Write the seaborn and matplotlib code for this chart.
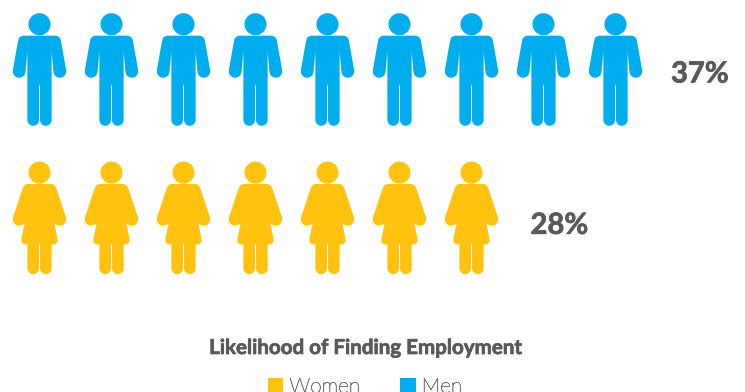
import numpy as np
import pandas as pd
import matplotlib
matplotlib.use("Agg")
import matplotlib.pyplot as plt
import matplotlib.patheffects as pe
from matplotlib.patches import Patch
from matplotlib.path import Path
import seaborn as sns

groups = ["Men", "Women"]
icon_counts = [9, 7]
percent_labels = ["37%", "28%"]
label_gaps_px = [55.5, 59.0]
label_drops_px = [5.0, 8.0]
legend_order = ["Women", "Men"]
title_text = "Likelihood of Finding Employment"
colors = {"Men": "#00AEEF", "Women": "#FFC20E"}
text_color = "#58595B"

AXIS = 39.5


def arc(cx, cy, r, start, stop, n=14):
    a = np.radians(np.linspace(start, stop, n))
    return [(cx + r * np.cos(t), cy + r * np.sin(t)) for t in a]


def glyph(right_side, head, cx, cy):
    """Mirror the right half of a figure's outline and add the head as a second loop."""
    right = np.asarray(right_side, float)
    left = right[::-1].copy()
    left[:, 0] = 2 * AXIS - left[:, 0]
    body = np.vstack([right, left])
    loops = []
    for loop in (body, np.asarray(head, float)):
        p = (loop - (cx, cy)) * (1, -1)
        x, y = p[:, 0], p[:, 1]
        if np.sum(x * np.roll(y, -1) - np.roll(x, -1) * y) < 0:
            p = p[::-1]
        loops.append(Path(np.vstack([p, p[:1]]), closed=True))
    return Path.make_compound_path(*loops)


# Right half of each outline runs from the neck, over the shoulder and arm, to the inner leg
man_side = (
    [(AXIS, 35.7)]
    + arc(55.0, 41.7, 6.0, -90, -10)
    + arc(59.8, 71.3, 6.4, -10, 178)
    + [(51.6, 51.5), (51.6, 119.9)]
    + arc(45.8, 119.9, 5.8, 0, 180)
    + [(40.0, 85.0)]
)
man_marker = glyph(man_side, arc(AXIS, 24.3, 11, 0, 360, 48)[:-1], AXIS, 69.5)

woman_side = (
    [(AXIS, 184.0)]
    + arc(50.5, 190.0, 6.0, -90, -17)
    + arc(59.8, 219.3, 6.4, -17, 165)
    + [(51.6, 209.0), (57.4, 238.5)]
    + arc(53.6, 240.3, 4.0, -10, 90, 8)
    + [(51.6, 244.3), (51.6, 268.2)]
    + arc(45.8, 268.2, 5.8, 0, 180)
    + [(40.0, 244.3)]
)
woman_marker = glyph(woman_side, arc(AXIS, 172.7, 11, 0, 360, 48)[:-1], AXIS, 217.85)

records = [
    {"group": g, "slot": i}
    for g, n in zip(groups, icon_counts)
    for i in range(n)
]
df = pd.DataFrame(records)

sns.set_theme(style="white")
plt.rcParams["font.family"] = ["Lato", "DejaVu Sans"]

W, H, DPI = 745, 392, 100
fig = plt.figure(figsize=(W / DPI, H / DPI), dpi=DPI)
ax = fig.add_axes([0, 0, 1, 1])

SLOT_PX, ROW_PX = 72.0, 148.35
marker_pts = 112.6 * 72 / DPI

sns.scatterplot(
    data=df, x="slot", y="group", hue="group", style="group",
    palette=colors,
    markers={"Men": man_marker, "Women": woman_marker},
    s=marker_pts ** 2, linewidth=0, legend=False, ax=ax, clip_on=False,
)

ax.set_xlim(-AXIS / SLOT_PX, (W - AXIS) / SLOT_PX)
ax.set_ylim((H - 69.5) / ROW_PX, -69.5 / ROW_PX)
ax.axis("off")

heavier = [pe.withStroke(linewidth=0.5, foreground=text_color)]

# Percentage beside the last icon of each row
for row, (n, label, gap, drop) in enumerate(zip(icon_counts, percent_labels, label_gaps_px, label_drops_px)):
    ax.annotate(
        label, xy=(n - 1, row), xytext=(gap * 72 / DPI, -drop * 72 / DPI),
        textcoords="offset points", ha="left", va="center",
        fontsize=21, fontweight="bold", color=text_color, path_effects=heavier,
    )

fig.text(365.5 / W, 1 - 348 / H, title_text, ha="center", va="center",
         fontsize=14.8, fontweight="bold", color=text_color, path_effects=heavier)

handles = [Patch(facecolor=colors[g], edgecolor="none", label=g) for g in legend_order]
legend = fig.legend(
    handles=handles, ncol=2, frameon=False,
    loc="upper left", bbox_to_anchor=(251 / W, 1 - 360 / H),
    handlelength=0.75, handleheight=0.75, handletextpad=0.29, columnspacing=1.92,
    prop={"family": "Lato", "weight": "light", "size": 15},
    labelcolor="#58595B", borderpad=0.3,
)
# The light face renders faint at this size, so give its strokes a little body
for label in legend.get_texts():
    label.set_path_effects([pe.withStroke(linewidth=0.35, foreground="#77787B")])

fig.savefig("out.png", dpi=DPI)
